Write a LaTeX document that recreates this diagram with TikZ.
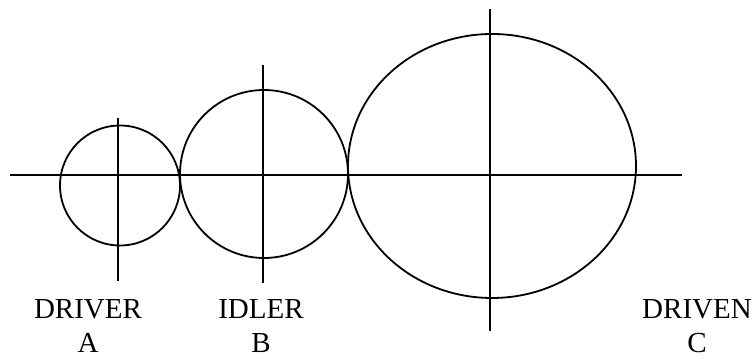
\documentclass[tikz,border=0pt]{standalone}
\usepackage{fontspec}
\setmainfont{Liberation Serif}
\usetikzlibrary{positioning}

\begin{document}
\begin{tikzpicture}[x=1pt, y=1pt, line width=1.8pt,
    lbl/.style={anchor=base, inner sep=0pt, font=\fontsize{29}{34}\selectfont}]
    \useasboundingbox (0,0) rectangle (753,358);
    % Centre line through all three gears
    \draw (10,183) -- (682,183);
    % Driver A
    \draw (120,172.5) circle [radius=60pt];
    \draw (118,240) -- (118,77);
    % Idler B
    \draw (264,184) circle [radius=84pt];
    \draw (263,293) -- (263,75);
    % Driven C
    \draw (492,192) ellipse [x radius=144pt, y radius=132pt];
    \draw (490,349) -- (490,27);
    % Labels
    \node[lbl] (driver) at (88,39) {DRIVER};
    \node[lbl] (drivera) at (88,5) {A};
    \node[lbl] (idler) at (261,39) {IDLER};
    \node[lbl] (idlerb) at (261,5) {B};
    \node[lbl] (driven) at (697,39) {DRIVEN};
    \node[lbl] (drivenc) at (697,5) {C};
\end{tikzpicture}
\end{document}
